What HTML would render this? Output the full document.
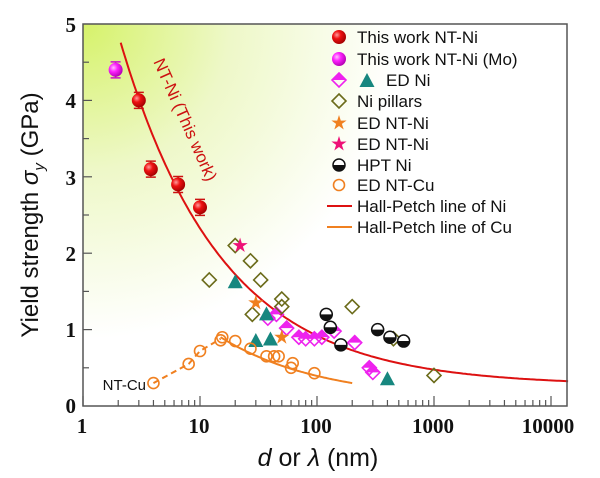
<!DOCTYPE html>
<html><head><meta charset="utf-8"><style>
html,body{margin:0;padding:0;background:#fff;width:600px;height:478px;overflow:hidden}
svg{display:block}
.tk{font-family:"Liberation Serif",serif;font-weight:bold;font-size:21px;fill:#111}
.lg{font-family:"Liberation Sans",sans-serif;font-size:17px;fill:#111}
</style></head><body>
<svg id="s" width="600" height="478" viewBox="0 0 600 478" xmlns="http://www.w3.org/2000/svg">
<defs>
<radialGradient id="bg" cx="83" cy="24" r="420" gradientUnits="userSpaceOnUse">
<stop offset="0" stop-color="#d6f26a"/><stop offset="0.35" stop-color="#eef8c8"/><stop offset="0.75" stop-color="#ffffff"/>
</radialGradient>
<radialGradient id="rb" cx="0.35" cy="0.35" r="0.7"><stop offset="0" stop-color="#ff9a9a"/><stop offset="0.4" stop-color="#ee1111"/><stop offset="1" stop-color="#a00000"/></radialGradient>
<radialGradient id="mb" cx="0.35" cy="0.35" r="0.7"><stop offset="0" stop-color="#ffc0ff"/><stop offset="0.4" stop-color="#ff22ff"/><stop offset="1" stop-color="#b000b0"/></radialGradient>
</defs>
<rect x="83" y="24" width="484" height="382" fill="url(#bg)"/>
<g id="g"></g>
<rect x="83" y="24" width="484" height="382" fill="none" stroke="#555" stroke-width="1.5"/>
<text class="tk" x="76" y="32" text-anchor="end">5</text>
<text class="tk" x="76" y="108" text-anchor="end">4</text>
<text class="tk" x="76" y="185" text-anchor="end">3</text>
<text class="tk" x="76" y="261" text-anchor="end">2</text>
<text class="tk" x="76" y="337" text-anchor="end">1</text>
<text class="tk" x="76" y="413" text-anchor="end">0</text>
<text class="tk" x="82" y="433" text-anchor="middle">1</text>
<text class="tk" x="199" y="433" text-anchor="middle">10</text>
<text class="tk" x="316" y="433" text-anchor="middle">100</text>
<text class="tk" x="433" y="433" text-anchor="middle">1000</text>
<text class="tk" x="548" y="433" text-anchor="middle">10000</text>
<text x="318" y="466" text-anchor="middle" font-family="Liberation Sans,sans-serif" font-size="25" fill="#111"><tspan font-style="italic">d</tspan> or <tspan font-style="italic">λ</tspan> (nm)</text>
<text transform="translate(38,215) rotate(-90)" text-anchor="middle" font-family="Liberation Sans,sans-serif" font-size="24" fill="#111">Yield strength <tspan font-style="italic">σ</tspan><tspan font-style="italic" font-size="15" dy="6">y</tspan><tspan dy="-6"> (GPa)</tspan></text>
<text transform="translate(180,122) rotate(66)" text-anchor="middle" font-family="Liberation Sans,sans-serif" font-size="17" fill="#cc1111">NT-Ni (This work)</text>
<text x="146" y="390" text-anchor="end" font-family="Liberation Sans,sans-serif" font-size="15" fill="#111">NT-Cu</text>
<g class="lg">
<text x="357" y="43">This work NT-Ni</text>
<text x="357" y="65">This work NT-Ni (Mo)</text>
<text x="386" y="86">ED Ni</text>
<text x="357" y="107">Ni pillars</text>
<text x="357" y="129">ED NT-Ni</text>
<text x="357" y="150">ED NT-Ni</text>
<text x="357" y="171">HPT Ni</text>
<text x="357" y="191">ED NT-Cu</text>
<text x="357" y="212">Hall-Petch line of Ni</text>
<text x="357" y="233">Hall-Petch line of Cu</text>
</g>
</svg>
<script>
const g=document.getElementById('g');const NS='http://www.w3.org/2000/svg';
const X=d=>83+117*Math.log10(d), Y=v=>406-76.4*v;
function el(t,a){const e=document.createElementNS(NS,t);for(const k in a)e.setAttribute(k,a[k]);g.appendChild(e);return e;}
for(let v=0.5;v<5;v+=0.5){el('line',{x1:83,x2:v%1?89:92,y1:Y(v),y2:Y(v),stroke:'#555','stroke-width':1.2});}
for(let e=0;e<4;e++)for(let m=1;m<10;m++){const x=X(m*Math.pow(10,e));el('line',{x1:x,x2:x,y1:406,y2:m==1?396:400,stroke:'#555','stroke-width':1.2});}
el('line',{x1:X(10000),x2:X(10000),y1:406,y2:396,stroke:'#555','stroke-width':1.2});
let p='';for(let i=0;i<=200;i++){const d=Math.pow(10,Math.log10(2.1)+i/200*(Math.log10(10000*1.4)-Math.log10(2.1)));p+=(i?'L':'M')+X(d).toFixed(1)+','+Y(0.27+6.5/Math.sqrt(d)).toFixed(1);}
el('path',{d:p,fill:'none',stroke:'#dd1111','stroke-width':2});
p='';for(let i=0;i<=80;i++){const d=Math.pow(10,Math.log10(15)+i/80*(Math.log10(200)-Math.log10(15)));p+=(i?'L':'M')+X(d).toFixed(1)+','+Y(0.074+3.2/Math.sqrt(d)).toFixed(1);}
el('path',{d:p,fill:'none',stroke:'#f08020','stroke-width':2});
el('path',{d:`M${X(4)},${Y(0.3)}L${X(8)},${Y(0.55)}L${X(10)},${Y(0.72)}L${X(15)},${Y(0.88)}`,fill:'none',stroke:'#f08020','stroke-width':2,'stroke-dasharray':'6,4'});
function dia(x,y,c,f){el('path',{d:`M${x},${y-7}L${x+7},${y}L${x},${y+7}L${x-7},${y}Z`,fill:f||'none',stroke:c,'stroke-width':1.6});}
function tri(x,y){el('path',{d:`M${x},${y-8}L${x+7.5},${y+6}L${x-7.5},${y+6}Z`,fill:'#17877f'});}
function star(x,y,c){let s='';for(let i=0;i<10;i++){const r=i%2?3:8,a=-Math.PI/2+i*Math.PI/5;s+=(i?'L':'M')+(x+r*Math.cos(a)).toFixed(1)+','+(y+r*Math.sin(a)).toFixed(1);}el('path',{d:s+'Z',fill:c});}
function hpt(x,y){el('circle',{cx:x,cy:y,r:6,fill:'#fff',stroke:'#111','stroke-width':1.5});el('path',{d:`M${x-6},${y}A6,6 0 0 0 ${x+6},${y}Z`,fill:'#111'});}
function oc(x,y){el('circle',{cx:x,cy:y,r:5.5,fill:'none',stroke:'#f08020','stroke-width':1.6});}
function ball(x,y,f,c,eb){if(eb){el('path',{d:`M${x},${y-eb}V${y+eb}M${x-5},${y-eb}H${x+5}M${x-5},${y+eb}H${x+5}`,stroke:c,'stroke-width':1.5});}el('circle',{cx:x,cy:y,r:7,fill:f});}
[[38,1.15],[45,1.2],[55,1.02],[70,0.9],[80,0.88],[95,0.88],[110,0.9],[140,0.98],[210,0.83],[280,0.5],[300,0.44]].forEach(([d,v])=>{const x=X(d),y=Y(v);dia(x,y,'#ee22ee');el('path',{d:`M${x-7},${y}L${x},${y-7}L${x+7},${y}Z`,fill:'#ee22ee'});});
[[12,1.65],[20,2.1],[27,1.9],[28,1.2],[33,1.65],[50,1.4],[50,1.3],[200,1.3],[450,0.88],[1000,0.4]].forEach(([d,v])=>dia(X(d),Y(v),'#6b6b1a'));
[[20,1.62],[30,0.85],[37,1.2],[40,0.87],[400,0.35]].forEach(([d,v])=>tri(X(d),Y(v)));
[[30,1.35],[50,0.9]].forEach(([d,v])=>star(X(d),Y(v),'#f08020'));star(X(22),Y(2.1),'#ee1177');
[[120,1.2],[130,1.03],[160,0.8],[330,1.0],[420,0.9],[550,0.85]].forEach(([d,v])=>hpt(X(d),Y(v)));
[[4,0.3],[8,0.55],[10,0.72],[15,0.86],[15.5,0.9],[20,0.85],[27,0.75],[37,0.65],[43,0.65],[47,0.65],[60,0.5],[62,0.56],[95,0.43]].forEach(([d,v])=>oc(X(d),Y(v)));
[[3,4.0],[3.8,3.1],[6.5,2.9],[10,2.6]].forEach(([d,v])=>ball(X(d),Y(v),'url(#rb)','#cc1111',8));
ball(X(1.9),Y(4.4),'url(#mb)','#cc11cc',8);
ball(339,37,'url(#rb)');ball(339,59,'url(#mb)');
dia(339,80,'#ee22ee');el('path',{d:'M332,80L339,73L346,80Z',fill:'#ee22ee'});tri(367,81);
dia(339,101,'#6b6b1a');star(339,123,'#f08020');star(339,144,'#ee1177');hpt(339,165);oc(339,185);
el('line',{x1:327,x2:352,y1:206,y2:206,stroke:'#dd1111','stroke-width':2});
el('line',{x1:327,x2:352,y1:227,y2:227,stroke:'#f08020','stroke-width':2});
</script>
</body></html>
